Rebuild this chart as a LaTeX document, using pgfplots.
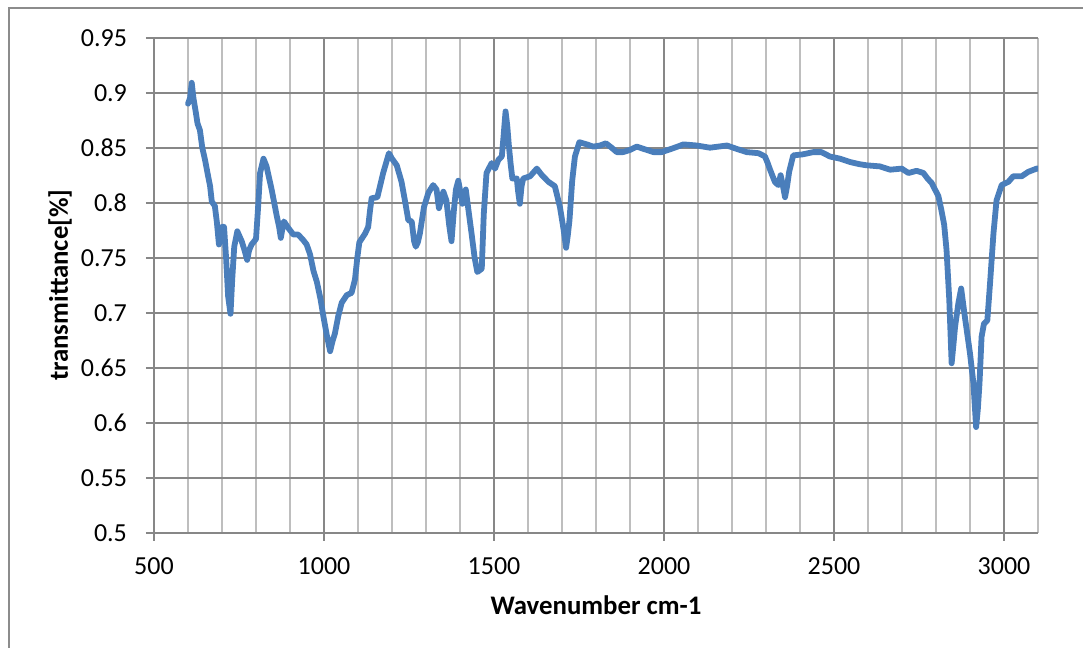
\documentclass[border=0pt]{standalone}
\usepackage{fontspec}
\setmainfont{Carlito}
\usepackage{pgfplots}
\pgfplotsset{compat=1.18}

\definecolor{specblue}{HTML}{4A7EBB}
\definecolor{gridmajor}{HTML}{878787}
\definecolor{gridminor}{HTML}{BEBEBE}
\definecolor{framegray}{HTML}{8C8C8C}

\begin{document}
\begin{tikzpicture}
  % canvas 541.5pt x 324pt
  \path[use as bounding box] (0pt,0pt) rectangle (541.5pt,324pt);
  % chart frame (left and top edges)
  \draw[framegray, line width=1pt] (4.25pt,0pt) -- (4.25pt,319.75pt) -- (541.5pt,319.75pt);

  \begin{axis}[
    at={(77pt,57.65pt)}, anchor=south west,
    scale only axis, width=442pt, height=247.5pt,
    xmin=500, xmax=3100, ymin=0.5, ymax=0.95,
    xtick={500,1000,1500,2000,2500,3000},
    minor xtick={600,700,800,900,1100,1200,1300,1400,1600,1700,1800,1900,
                 2100,2200,2300,2400,2600,2700,2800,2900,3100},
    ytick={0.5,0.55,0.6,0.65,0.7,0.75,0.8,0.85,0.9,0.95},
    grid=both,
    major grid style={gridmajor, line width=1pt},
    minor grid style={gridminor, line width=1pt},
    axis x line*=bottom, axis y line*=left,
    axis line style={gridmajor, line width=1pt, -},
    tick align=outside,
    major tick length=4pt, minor tick length=0pt,
    tick style={gridmajor, line width=1pt},
    scaled ticks=false,
    /pgf/number format/assume math mode=true,
    /pgf/number format/1000 sep={},
    tick label style={font=\fontsize{13}{15}\selectfont, black},
    xticklabel style={yshift=-5pt},
    yticklabel style={xshift=-6pt},
    xlabel={Wavenumber cm-1},
    ylabel={transmittance[\%]},
    xlabel style={font=\fontsize{13.4}{16}\selectfont\bfseries,
                  at={(axis description cs:0.5,0)}, anchor=base, yshift=-41pt},
    ylabel style={font=\fontsize{13.4}{16}\selectfont\bfseries,
                  at={(axis description cs:0,0.5)}, anchor=base, yshift=43pt},
  ]
    \addplot[specblue, line width=2.9pt, line join=round, line cap=round, mark=none]
      table {
x y
600 0.890
606 0.895
611 0.909
616 0.895
622 0.884
628 0.872
635 0.866
642 0.850
650 0.839
658 0.826
665 0.815
670 0.801
679 0.797
685 0.782
691 0.762
696 0.768
700 0.778
706 0.778
712 0.750
718 0.715
725 0.699
730 0.730
736 0.760
745 0.774
758 0.765
766 0.757
774 0.748
780 0.757
787 0.762
800 0.767
806 0.795
812 0.827
822 0.840
831 0.833
846 0.812
861 0.788
868 0.778
873 0.768
878 0.777
882 0.783
895 0.777
910 0.771
924 0.771
939 0.766
949 0.762
959 0.753
969 0.738
979 0.728
990 0.712
998 0.697
1008 0.680
1018 0.665
1025 0.674
1032 0.681
1042 0.697
1052 0.709
1067 0.716
1081 0.718
1091 0.730
1098 0.750
1104 0.764
1121 0.772
1130 0.778
1135 0.792
1140 0.804
1157 0.805
1174 0.827
1191 0.845
1200 0.840
1214 0.834
1228 0.819
1238 0.802
1248 0.784
1258 0.783
1265 0.765
1270 0.760
1276 0.764
1282 0.772
1294 0.796
1307 0.809
1321 0.816
1331 0.812
1338 0.795
1345 0.803
1351 0.810
1360 0.802
1368 0.780
1375 0.765
1382 0.793
1388 0.812
1395 0.820
1401 0.810
1407 0.799
1417 0.812
1425 0.793
1434 0.772
1443 0.750
1451 0.737
1464 0.740
1470 0.790
1478 0.827
1488 0.833
1493 0.836
1503 0.831
1513 0.839
1523 0.842
1528 0.860
1534 0.883
1539 0.870
1544 0.851
1549 0.835
1554 0.822
1567 0.822
1571 0.810
1576 0.799
1581 0.815
1586 0.822
1606 0.824
1626 0.831
1641 0.825
1660 0.819
1679 0.815
1694 0.796
1705 0.775
1712 0.759
1717 0.770
1722 0.784
1730 0.820
1738 0.842
1751 0.855
1773 0.853
1792 0.851
1812 0.852
1829 0.854
1846 0.850
1861 0.846
1880 0.846
1900 0.848
1920 0.851
1939 0.849
1969 0.846
1993 0.846
2022 0.849
2040 0.851
2057 0.853
2096 0.852
2135 0.850
2160 0.851
2185 0.852
2213 0.849
2243 0.846
2278 0.845
2297 0.842
2305 0.836
2312 0.830
2326 0.819
2336 0.816
2343 0.825
2350 0.815
2356 0.805
2362 0.815
2368 0.828
2380 0.843
2409 0.844
2439 0.846
2463 0.846
2488 0.842
2518 0.840
2547 0.837
2575 0.835
2596 0.834
2635 0.833
2665 0.830
2699 0.831
2719 0.827
2743 0.829
2763 0.827
2775 0.822
2787 0.818
2797 0.812
2807 0.806
2816 0.793
2824 0.780
2831 0.757
2839 0.712
2846 0.654
2851 0.670
2856 0.687
2866 0.709
2874 0.722
2885 0.696
2900 0.663
2910 0.636
2918 0.596
2923 0.612
2928 0.636
2934 0.678
2941 0.690
2951 0.693
2959 0.727
2969 0.772
2978 0.802
2993 0.816
3013 0.819
3027 0.824
3052 0.824
3071 0.828
3096 0.831
3100 0.831
      };
  \end{axis}
\end{tikzpicture}
\end{document}
